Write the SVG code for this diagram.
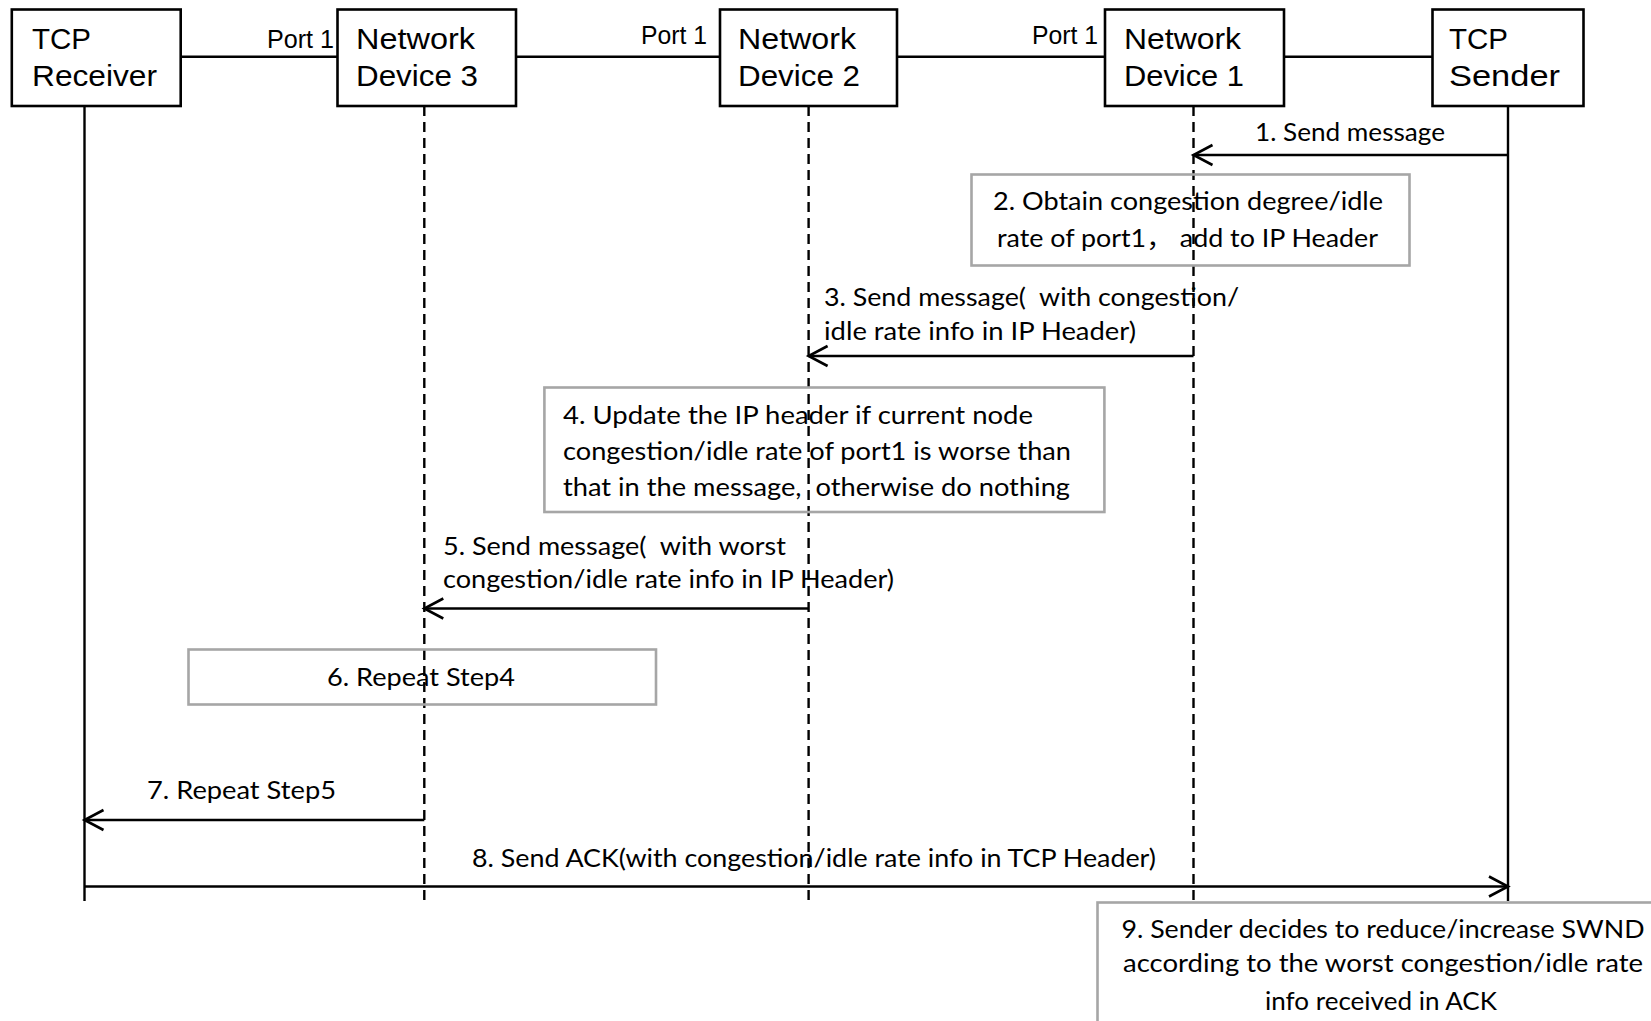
<svg xmlns="http://www.w3.org/2000/svg" width="1651" height="1021" viewBox="0 0 1651 1021">
  <style>
    .box { fill: #ffffff; stroke: #000000; stroke-width: 2.6; }
    .note { fill: none; stroke: #a6a6a6; stroke-width: 2.6; }
    .link { stroke: #000000; stroke-width: 2.6; fill: none; }
    .life { stroke: #000000; stroke-width: 2.4; fill: none; }
    .dash { stroke-dasharray: 10 6; }
    .msg { stroke: #000000; stroke-width: 2.6; fill: none; marker-end: url(#open); }
    .lbl { font-family: "Liberation Sans", Arial, sans-serif; font-size: 30px; fill: #000000; }
    .port { font-family: "Liberation Sans", Arial, sans-serif; font-size: 25px; fill: #000000; }
    .txt { font-family: Lato, "Noto Sans CJK SC", sans-serif; font-size: 25px; fill: #000000; }
  </style>
  <defs>
    <!-- open V arrowhead, tip at the line end -->
    <marker id="open" markerUnits="userSpaceOnUse" markerWidth="30" markerHeight="30" refX="0" refY="0" orient="auto" overflow="visible">
      <path d="M -19 -10 L 0 0 L -19 10" fill="none" stroke="#000000" stroke-width="2.6"/>
    </marker>
  </defs>

  <rect width="1651" height="1021" fill="#ffffff"/>

  <!-- physical links between devices -->
  <g id="links">
    <line class="link" x1="180.7" y1="56.7" x2="337.5" y2="56.7"/>
    <line class="link" x1="516" y1="56.7" x2="720" y2="56.7"/>
    <line class="link" x1="897" y1="56.7" x2="1105" y2="56.7"/>
    <line class="link" x1="1284" y1="56.7" x2="1432.5" y2="56.7"/>
    <text class="port" x="267" y="48" textLength="67" lengthAdjust="spacingAndGlyphs">Port 1</text>
    <text class="port" x="641" y="44" textLength="66" lengthAdjust="spacingAndGlyphs">Port 1</text>
    <text class="port" x="1032" y="44" textLength="66" lengthAdjust="spacingAndGlyphs">Port 1</text>
  </g>

  <!-- lifelines -->
  <g id="lifelines">
    <line class="life" x1="84.5" y1="106" x2="84.5" y2="901"/>
    <line class="life dash" x1="424.3" y1="106" x2="424.3" y2="901"/>
    <line class="life dash" x1="808.6" y1="106" x2="808.6" y2="901"/>
    <line class="life dash" x1="1193.5" y1="106" x2="1193.5" y2="901"/>
    <line class="life" x1="1508" y1="106" x2="1508" y2="901"/>
  </g>

  <!-- participants -->
  <g id="tcp-receiver">
    <rect class="box" x="11.8" y="9.5" width="168.9" height="96.5"/>
    <text class="lbl" x="32" y="49" textLength="59" lengthAdjust="spacingAndGlyphs">TCP</text>
    <text class="lbl" x="32" y="86" textLength="125" lengthAdjust="spacingAndGlyphs">Receiver</text>
  </g>
  <g id="network-device-3">
    <rect class="box" x="337.5" y="9.5" width="178.5" height="96.5"/>
    <text class="lbl" x="356" y="49" textLength="119" lengthAdjust="spacingAndGlyphs">Network</text>
    <text class="lbl" x="356" y="86" textLength="122" lengthAdjust="spacingAndGlyphs">Device 3</text>
  </g>
  <g id="network-device-2">
    <rect class="box" x="720" y="9.5" width="177" height="96.5"/>
    <text class="lbl" x="738" y="49" textLength="118" lengthAdjust="spacingAndGlyphs">Network</text>
    <text class="lbl" x="738" y="86" textLength="122" lengthAdjust="spacingAndGlyphs">Device 2</text>
  </g>
  <g id="network-device-1">
    <rect class="box" x="1105" y="9.5" width="179" height="96.5"/>
    <text class="lbl" x="1124" y="49" textLength="117" lengthAdjust="spacingAndGlyphs">Network</text>
    <text class="lbl" x="1124" y="86" textLength="120" lengthAdjust="spacingAndGlyphs">Device 1</text>
  </g>
  <g id="tcp-sender">
    <rect class="box" x="1432.5" y="9.5" width="151" height="96.5"/>
    <text class="lbl" x="1449" y="49" textLength="59" lengthAdjust="spacingAndGlyphs">TCP</text>
    <text class="lbl" x="1449" y="86" textLength="111" lengthAdjust="spacingAndGlyphs">Sender</text>
  </g>

  <!-- step notes -->
  <g id="step2">
    <rect class="note" x="971.5" y="174.5" width="438" height="91"/>
    <text class="txt" x="993" y="210" textLength="390" lengthAdjust="spacingAndGlyphs">2. Obtain congestion degree/idle</text>
    <text class="txt" x="997" y="247" textLength="381" lengthAdjust="spacingAndGlyphs">rate of port1， add to IP Header</text>
  </g>
  <g id="step4">
    <rect class="note" x="544.4" y="387.5" width="560" height="124.5"/>
    <text class="txt" x="563" y="424" textLength="470" lengthAdjust="spacingAndGlyphs">4. Update the IP header if current node</text>
    <text class="txt" x="563" y="460" textLength="508" lengthAdjust="spacingAndGlyphs">congestion/idle rate of port1 is worse than</text>
    <text class="txt" x="563" y="496" textLength="507" lengthAdjust="spacingAndGlyphs" xml:space="preserve">that in the message,  otherwise do nothing</text>
  </g>
  <g id="step6">
    <rect class="note" x="188.5" y="649.5" width="467.5" height="55"/>
    <text class="txt" x="421" y="686" text-anchor="middle" textLength="188" lengthAdjust="spacingAndGlyphs">6. Repeat Step4</text>
  </g>
  <g id="step9">
    <rect class="note" x="1097.5" y="902.5" width="620" height="200"/>
    <text class="txt" x="1383" y="938" text-anchor="middle" textLength="523" lengthAdjust="spacingAndGlyphs">9. Sender decides to reduce/increase SWND</text>
    <text class="txt" x="1383" y="972" text-anchor="middle" textLength="520" lengthAdjust="spacingAndGlyphs">according to the worst congestion/idle rate</text>
    <text class="txt" x="1381" y="1010" text-anchor="middle" textLength="232" lengthAdjust="spacingAndGlyphs">info received in ACK</text>
  </g>

  <!-- messages -->
  <g id="messages">
    <line class="msg" x1="1508" y1="155" x2="1193.5" y2="155"/>
    <text class="txt" x="1255" y="141" textLength="190" lengthAdjust="spacingAndGlyphs">1. Send message</text>

    <line class="msg" x1="1193.5" y1="356" x2="808.6" y2="356"/>
    <text class="txt" x="824" y="306" textLength="415" lengthAdjust="spacingAndGlyphs" xml:space="preserve">3. Send message(  with congestion/</text>
    <text class="txt" x="824" y="340" textLength="312" lengthAdjust="spacingAndGlyphs">idle rate info in IP Header)</text>

    <line class="msg" x1="808.6" y1="608.5" x2="424.3" y2="608.5"/>
    <text class="txt" x="443" y="555" textLength="343" lengthAdjust="spacingAndGlyphs" xml:space="preserve">5. Send message(  with worst</text>
    <text class="txt" x="443" y="588" textLength="451" lengthAdjust="spacingAndGlyphs">congestion/idle rate info in IP Header)</text>

    <line class="msg" x1="424.3" y1="820" x2="84.5" y2="820"/>
    <text class="txt" x="147" y="799" textLength="189" lengthAdjust="spacingAndGlyphs">7. Repeat Step5</text>

    <line class="msg" x1="84.5" y1="886.5" x2="1508" y2="886.5"/>
    <text class="txt" x="472" y="867" textLength="684" lengthAdjust="spacingAndGlyphs">8. Send ACK(with congestion/idle rate info in TCP Header)</text>
  </g>
</svg>
